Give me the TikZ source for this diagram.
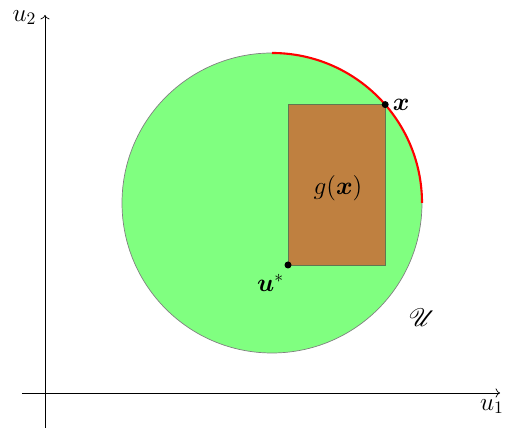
\documentclass[tikz,border=0pt]{standalone}
\usepackage{amsmath}
\usepackage{amssymb}
\usepackage{mathrsfs}
\usepackage{tikz}
\usetikzlibrary{positioning, arrows.meta, calc}
\usepackage{xcolor}
\definecolor{boxline}{RGB}{95,120,80}

\begin{document}
\begin{tikzpicture}[font=\Large, dot/.style={circle, fill=black, inner sep=0pt, minimum size=0.14cm}]
\useasboundingbox (-0.9,-0.72) rectangle (9.2,7.86);
% axes
\coordinate (o) at (0,0);
\coordinate (xs) at (-0.46,0);
\coordinate (xe) at (9.1,0);
\coordinate (ys) at (0,-0.7);
\coordinate (ye) at (0,7.56);
\draw[->] (xs) -- (xe);
\draw[->] (ys) -- (ye);
\node[below=0cm of xe, xshift=-0.16cm] (l1) {$u_1$};
\node[left=0.05cm of ye, yshift=-0.05cm] (l2) {$u_2$};
% set U
\coordinate (c) at (4.54,3.8);
\draw[gray, fill=green!50] (c) circle (3cm);
\draw[red, very thick] ($(c)+(90:3)$) arc (90:0:3);
\node (U) at (7.54,1.5) {$\mathscr{U}$};
% box g(x)
\coordinate (us) at (4.86,2.56);
\coordinate (x) at ($(c)+(41:3)$);
\draw[boxline, fill=brown] (us) rectangle (x);
\node (g) at (5.86,4.1) {$g(\boldsymbol{x})$};
\node[dot] (pu) at (us) {};
\node[dot] (px) at (x) {};
\node[below left=0cm and -0.1cm of pu] (lu) {$\boldsymbol{u}^*$};
\node[right=-0.05cm of px] (lx) {$\boldsymbol{x}$};
\end{tikzpicture}
\end{document}
